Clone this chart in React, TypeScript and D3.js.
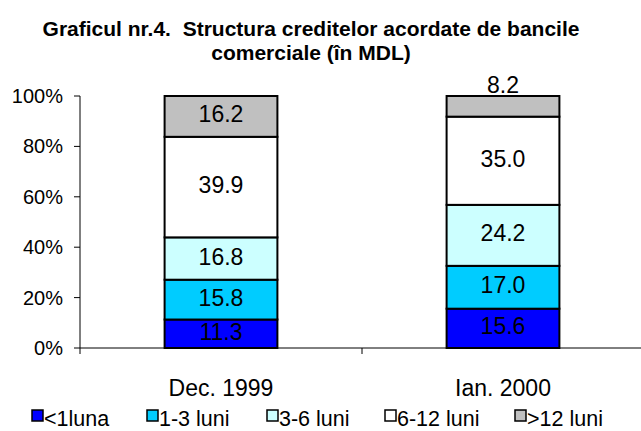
import React from 'react';
import * as d3 from 'd3';

const categories = ['Dec. 1999', 'Ian. 2000'];
const seriesNames = ['<1luna', '1-3 luni', '3-6 luni', '6-12 luni', '>12 luni'];
const dec1999 = [11.3, 15.8, 16.8, 39.9, 16.2];
const ian2000 = [15.6, 17.0, 24.2, 35.0, 8.2];
const yTicks = [0, 20, 40, 60, 80, 100];
const colors = ['#0000ff', '#00ccff', '#ccffff', '#ffffff', '#c0c0c0'];

const W = 641;
const H = 431;
const font = '"Liberation Sans", Arial, sans-serif';

const App = () => {
  const left = 80;
  const right = 644;
  const top = 96;
  const bottom = 348;

  const x = d3.scaleBand().domain(categories).range([left, right]).paddingInner(0).paddingOuter(0);
  const y = d3.scaleLinear().domain([0, 100]).range([bottom, top]);
  const barW = x.bandwidth() * 0.4;

  const values = [dec1999, ian2000];
  const stacks = categories.map((c, ci) => {
    let acc = 0;
    return values[ci].map((v, si) => {
      const y0 = acc;
      acc += v;
      return { cat: c, si, v, y0, y1: acc };
    });
  });

  const legendX = [32, 147, 267, 385, 515];

  return (
    <svg width={W} height={H} style={{ position: 'absolute', left: 0, top: 0, background: '#fff' }} fontFamily={font}>
      <text x={311} y={36} textAnchor="middle" fontSize={21} fontWeight="bold" style={{ whiteSpace: 'pre' }}>
        {'Graficul nr.4.  Structura creditelor acordate de bancile'}
      </text>
      <text x={311} y={60} textAnchor="middle" fontSize={21} fontWeight="bold">
        comerciale (în MDL)
      </text>

      {/* y axis */}
      <line x1={left} x2={left} y1={top} y2={bottom} stroke="#000" />
      {yTicks.map(t => (
        <g key={t}>
          <line x1={left - 6} x2={left} y1={y(t)} y2={y(t)} stroke="#000" />
          <text x={63} y={y(t) + 7} textAnchor="end" fontSize={20}>{t}%</text>
        </g>
      ))}

      {/* x axis */}
      <line x1={left} x2={W} y1={bottom} y2={bottom} stroke="#000" />
      {[left, left + x.bandwidth()].map((px, i) => (
        <line key={i} x1={px} x2={px} y1={bottom} y2={bottom + 6} stroke="#000" />
      ))}
      {categories.map(c => (
        <text key={c} x={x(c)! + x.bandwidth() / 2} y={396} textAnchor="middle" fontSize={23}>{c}</text>
      ))}

      {/* bars */}
      {stacks.map((st, ci) =>
        st.map(d => {
          const bx = x(d.cat)! + (x.bandwidth() - barW) / 2;
          return (
            <rect key={ci + '-' + d.si} x={bx} y={y(d.y1)} width={barW} height={y(d.y0) - y(d.y1)}
              fill={colors[d.si]} stroke="#000" strokeWidth={2} />
          );
        })
      )}
      {stacks.map((st, ci) =>
        st.map(d => {
          const cx = x(d.cat)! + x.bandwidth() / 2;
          const small = y(d.y0) - y(d.y1) < 25;
          const ty = small ? y(d.y1) - 3 : (y(d.y0) + y(d.y1)) / 2 + 6;
          return (
            <text key={'l' + ci + '-' + d.si} x={cx} y={ty} textAnchor="middle" fontSize={23}>
              {d.v.toFixed(1)}
            </text>
          );
        })
      )}

      {/* legend */}
      {seriesNames.map((s, i) => (
        <g key={s}>
          <rect x={legendX[i]} y={410} width={11} height={11} fill={colors[i]} stroke="#000" strokeWidth={1.5} />
          <text x={legendX[i] + 12} y={426} fontSize={21.5}>{s}</text>
        </g>
      ))}
    </svg>
  );
};

export default App;
